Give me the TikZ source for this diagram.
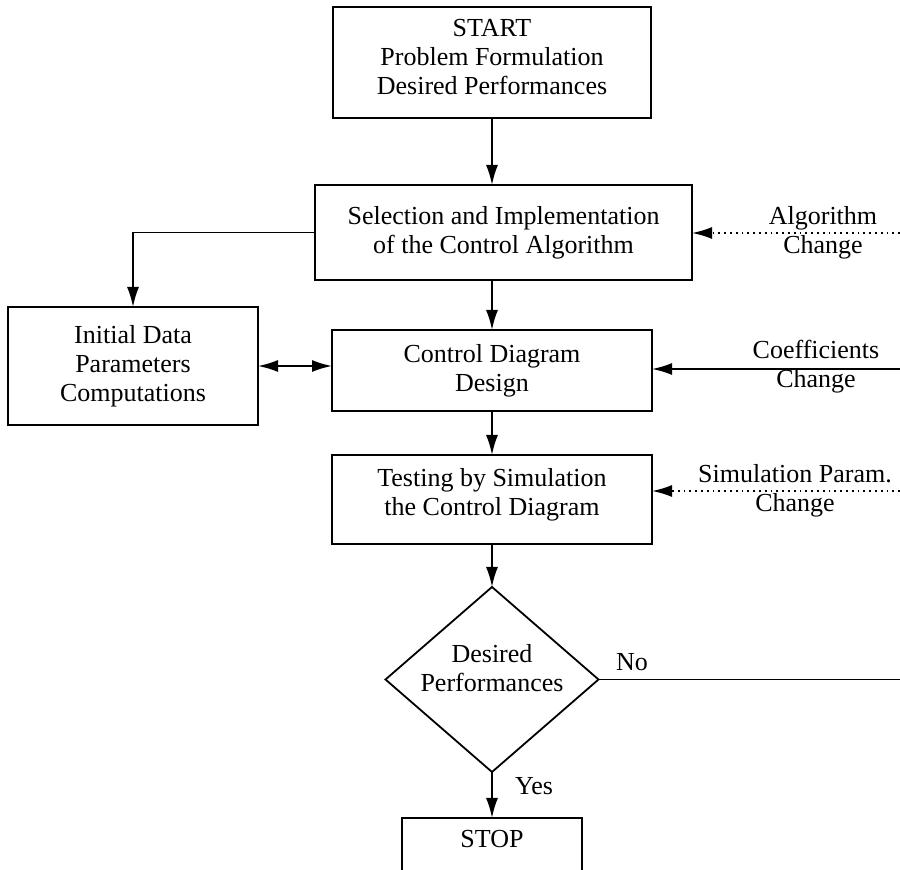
\documentclass[tikz,border=0pt]{standalone}
\usepackage{fontspec}
\setmainfont{Liberation Serif}
\usetikzlibrary{arrows.meta,shapes.geometric}
\begin{document}
\begin{tikzpicture}[x=0.5pt,y=-0.5pt,inner sep=0pt,outer sep=0pt,line width=0.9pt,
>={Latex[length=10pt,width=6pt]},
every node/.style={font=\fontsize{13pt}{14.6pt}\selectfont,align=center},
flowblock/.style={draw,rectangle,line width=0.9pt},
decision/.style={draw,diamond,line width=0.9pt,minimum width=106.5pt,minimum height=92.5pt}]
\useasboundingbox (0,0) rectangle (900,870);
\clip (0,0) rectangle (900,870);
\draw (492,62.5) node[flowblock,minimum width=159pt,minimum height=55.5pt] (start) {START\\Problem Formulation\\Desired Performances\\[-9pt]};
\draw (503.5,232.5) node[flowblock,minimum width=188.5pt,minimum height=47.5pt] (select) {Selection and Implementation\\of the Control Algorithm};
\draw (133,366) node[flowblock,minimum width=125pt,minimum height=59pt] (init) {Initial Data\\Parameters\\Computations};
\draw (492,370.5) node[flowblock,minimum width=160pt,minimum height=40.5pt] (design) {Control Diagram\\Design};
\draw (492,499.5) node[flowblock,minimum width=160pt,minimum height=44.5pt] (test) {Testing by Simulation\\the Control Diagram\\[-7pt]};
\draw (492,679.5) node[decision] (check) {};
\node (checktext) at ([yshift=5.5pt]check.center) {Desired\\Performances};
\draw (492,818) node[flowblock,anchor=north,minimum width=90pt,text height=15pt,text depth=25pt] (stop) {STOP};
% outside inputs
\coordinate (algin) at (900,233);
\coordinate (coefin) at (900,369);
\coordinate (simin) at (900,491);
\coordinate (noout) at (900,679.5);
\node (algchg) at (823,233) {Algorithm\\Change};
\node (coefchg) at (816,367) {Coefficients\\Change};
\node (simchg) at (795,491) {Simulation Param.\\Change};
\draw[->] (start.south) -- (start.south |- select.north);
\draw[->] (select.south -| design.north) -- (design.north);
\draw[->] (select.west) -| (init.north);
\draw[<->] (init.east) -- (design.west |- init.east);
\draw[->] (design.south) -- (test.north);
\draw[->] (test.south) -- (check.north);
\draw[->] (check.south) -- (stop.north);
\draw[->,dotted] (algin) -- (select.east |- algin);
\draw[->] (coefin) -- (design.east |- coefin);
\draw[->,dotted] (simin) -- (test.east |- simin);
\draw (check.east) -- (noout);
\node (nolabel) at (632,662) {No};
\node (yeslabel) at (534,786) {Yes};
\end{tikzpicture}
\end{document}
